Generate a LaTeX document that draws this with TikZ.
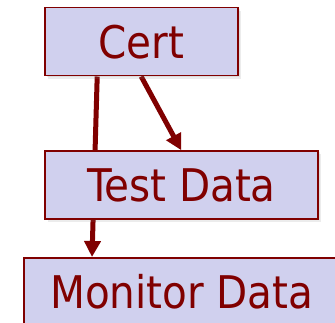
\documentclass[tikz,border=0pt]{standalone}
\usepackage{fontspec}
\setmainfont{DejaVu Sans Condensed}
\usetikzlibrary{arrows.meta,shadows,calc,backgrounds}
\definecolor{boxfill}{RGB}{208,208,238}
\definecolor{darkred}{RGB}{128,0,0}
\tikzset{
  softshadow/.style={
    drop shadow={opacity=0.15, shadow xshift=1.5pt, shadow yshift=-1.5pt},
    drop shadow={opacity=0.15, shadow xshift=3pt, shadow yshift=-3pt}},
  databox/.style={draw=darkred, line width=1.6pt, fill=boxfill, text=darkred,
    font=\fontsize{45}{50}\selectfont, inner sep=0pt, minimum height=68pt,
    softshadow},
  link/.style={draw=darkred, line width=5pt,
    -{Triangle[length=16pt,width=16pt]}}
}
\begin{document}
\begin{tikzpicture}[x=1pt,y=-1pt]
  \useasboundingbox (0,0) rectangle (335,323);
  \clip (0,0) rectangle (335,323);
  \node[databox, minimum width=193pt] (cert) at (141.5,41.7) {Cert};
  \node[databox, minimum width=273pt] (test) at (181.5,185) {Test Data};
  \node[databox, minimum width=360pt, anchor=north west] (mon) at (23,257) {\hspace*{-44pt}Monitor Data};
  \begin{scope}[on background layer]
    \draw[link] ($(cert.south west)+(53,0)$) -- ($(mon.north west)+(69,0)$);
    \draw[link] ($(cert.south west)+(97,0)$) -- ($(test.north west)+(137,0)$);
  \end{scope}
\end{tikzpicture}
\end{document}
